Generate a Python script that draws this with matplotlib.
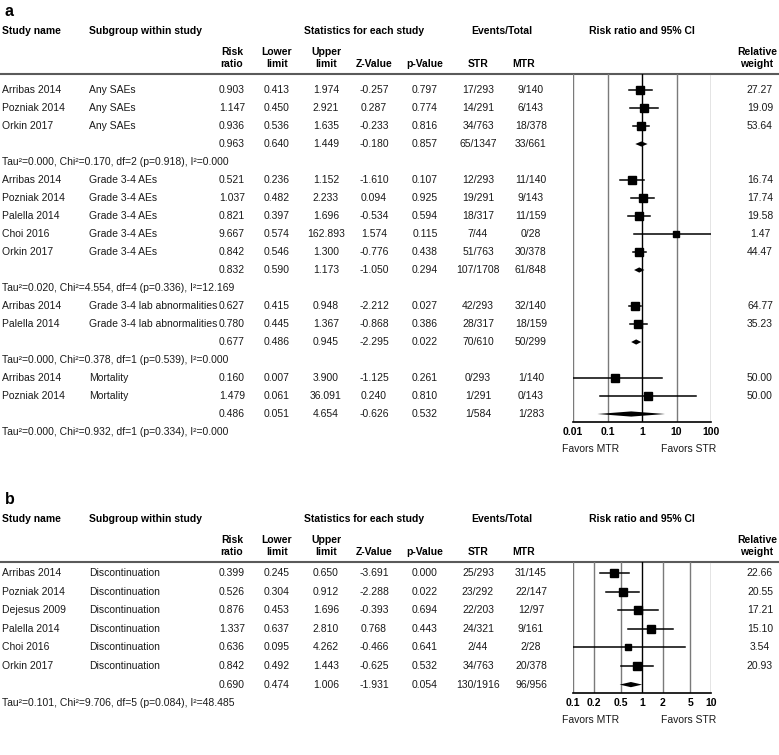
import numpy as np
import matplotlib.pyplot as plt
from matplotlib.ticker import NullLocator

plt.rcParams['font.family'] = ['Liberation Sans', 'DejaVu Sans']

# =========================
# Panel a data
# =========================
a_groups = ["Any SAEs", "Grade 3-4 AEs", "Grade 3-4 lab abnormalities", "Mortality"]
a_study = ["Arribas 2014", "Pozniak 2014", "Orkin 2017",
           "Arribas 2014", "Pozniak 2014", "Palella 2014", "Choi 2016", "Orkin 2017",
           "Arribas 2014", "Palella 2014",
           "Arribas 2014", "Pozniak 2014"]
a_sub = ["Any SAEs"] * 3 + ["Grade 3-4 AEs"] * 5 + ["Grade 3-4 lab abnormalities"] * 2 + ["Mortality"] * 2
a_rr = [0.903, 1.147, 0.936, 0.521, 1.037, 0.821, 9.667, 0.842, 0.627, 0.780, 0.160, 1.479]
a_lo = [0.413, 0.450, 0.536, 0.236, 0.482, 0.397, 0.574, 0.546, 0.415, 0.445, 0.007, 0.061]
a_hi = [1.974, 2.921, 1.635, 1.152, 2.233, 1.696, 162.893, 1.300, 0.948, 1.367, 3.900, 36.091]
a_z = [-0.257, 0.287, -0.233, -1.610, 0.094, -0.534, 1.574, -0.776, -2.212, -0.868, -1.125, 0.240]
a_p = [0.797, 0.774, 0.816, 0.107, 0.925, 0.594, 0.115, 0.438, 0.027, 0.386, 0.261, 0.810]
a_str = ["17/293", "14/291", "34/763", "12/293", "19/291", "18/317", "7/44", "51/763",
         "42/293", "28/317", "0/293", "1/291"]
a_mtr = ["9/140", "6/143", "18/378", "11/140", "9/143", "11/159", "0/28", "30/378",
         "32/140", "18/159", "1/140", "0/143"]
a_wt = [27.27, 19.09, 53.64, 16.74, 17.74, 19.58, 1.47, 44.47, 64.77, 35.23, 50.00, 50.00]

a_sum_rr = [0.963, 0.832, 0.677, 0.486]
a_sum_lo = [0.640, 0.590, 0.486, 0.051]
a_sum_hi = [1.449, 1.173, 0.945, 4.654]
a_sum_z = [-0.180, -1.050, -2.295, -0.626]
a_sum_p = [0.857, 0.294, 0.022, 0.532]
a_sum_str = ["65/1347", "107/1708", "70/610", "1/584"]
a_sum_mtr = ["33/661", "61/848", "50/299", "1/283"]
a_tau = [0.000, 0.020, 0.000, 0.000]
a_chi = [0.170, 4.554, 0.378, 0.932]
a_df = [2, 4, 1, 1]
a_phet = [0.918, 0.336, 0.539, 0.334]
a_i2 = [0.000, 12.169, 0.000, 0.000]
a_ticks = [0.01, 0.1, 1, 10, 100]
a_ticklabels = ["0.01", "0.1", "1", "10", "100"]

# =========================
# Panel b data
# =========================
b_groups = ["Discontinuation"]
b_study = ["Arribas 2014", "Pozniak 2014", "Dejesus 2009", "Palella 2014", "Choi 2016", "Orkin 2017"]
b_sub = ["Discontinuation"] * 6
b_rr = [0.399, 0.526, 0.876, 1.337, 0.636, 0.842]
b_lo = [0.245, 0.304, 0.453, 0.637, 0.095, 0.492]
b_hi = [0.650, 0.912, 1.696, 2.810, 4.262, 1.443]
b_z = [-3.691, -2.288, -0.393, 0.768, -0.466, -0.625]
b_p = [0.000, 0.022, 0.694, 0.443, 0.641, 0.532]
b_str = ["25/293", "23/292", "22/203", "24/321", "2/44", "34/763"]
b_mtr = ["31/145", "22/147", "12/97", "9/161", "2/28", "20/378"]
b_wt = [22.66, 20.55, 17.21, 15.10, 3.54, 20.93]

b_sum_rr = [0.690]
b_sum_lo = [0.474]
b_sum_hi = [1.006]
b_sum_z = [-1.931]
b_sum_p = [0.054]
b_sum_str = ["130/1916"]
b_sum_mtr = ["96/956"]
b_tau = [0.101]
b_chi = [9.706]
b_df = [5]
b_phet = [0.084]
b_i2 = [48.485]
b_ticks = [0.1, 0.2, 0.5, 1, 2, 5, 10]
b_ticklabels = ["0.1", "0.2", "0.5", "1", "2", "5", "10"]

# =========================
# Layout (pixel coordinates)
# =========================
W, H = 779, 755
FS = 7.5
TXT = '#1a1a1a'
COL_X = dict(rr=232, lo=277, hi=326, z=374, p=425, str=478, mtr=531, wt=757)
FOREST_L, FOREST_R = 573, 711

fig = plt.figure(figsize=(W / 100, H / 100), dpi=100)
bg = fig.add_axes([0, 0, 1, 1])
bg.set_xlim(0, W)
bg.set_ylim(H, 0)
bg.axis('off')


def header(label, y_top):
    bg.text(5, y_top, label, fontsize=11.5, fontweight='bold', va='center')
    y1 = y_top + 20
    y2 = y1 + 36
    kw = dict(fontsize=FS, fontweight='bold')
    bg.text(2, y1, "Study name", va='center', **kw)
    bg.text(89, y1, "Subgroup within study", va='center', **kw)
    bg.text(364, y1, "Statistics for each study", ha='center', va='center', **kw)
    bg.text(502, y1, "Events/Total", ha='center', va='center', **kw)
    bg.text(642, y1, "Risk ratio and 95% CI", ha='center', va='center', **kw)
    for x, t in [(COL_X['rr'], "Risk\nratio"), (COL_X['lo'], "Lower\nlimit"),
                 (COL_X['hi'], "Upper\nlimit"), (COL_X['wt'], "Relative\nweight")]:
        bg.text(x, y2, t, ha='center', va='baseline', linespacing=1.2, **kw)
    for x, t in [(COL_X['z'], "Z-Value"), (COL_X['p'], "p-Value"),
                 (COL_X['str'], "STR"), (524, "MTR")]:
        bg.text(x, y2, t, ha='center', va='baseline', **kw)
    line_y = y2 + 7
    bg.plot([0, W], [line_y, line_y], color='#5a5a5a', lw=1.5, solid_capstyle='butt')
    return line_y


def panel(label, y_top, row0, dy, axis_y, groups, study, sub, rr, lo, hi, z, p,
          s_str, s_mtr, wt, srr, slo, shi, sz, sp, sstr, smtr,
          tau, chi, df, phet, i2, ticks, ticklabels):
    line_y = header(label, y_top)
    ax = fig.add_axes([FOREST_L / W, 1 - axis_y / H,
                       (FOREST_R - FOREST_L) / W, (axis_y - line_y) / H])
    ax.set_xscale('log')
    ax.set_xlim(ticks[0], ticks[-1])
    ax.set_ylim(axis_y, line_y)
    for t in ticks:
        ax.axvline(t, color='black' if t == 1 else '#7a7a7a', lw=1.0, zorder=1)

    row = 0
    for g, name in enumerate(groups):
        idx = [k for k in range(len(study)) if sub[k] == name]
        for k in idx:
            y = row0 + row * dy
            vals = [(COL_X['rr'], f"{rr[k]:.3f}"), (COL_X['lo'], f"{lo[k]:.3f}"),
                    (COL_X['hi'], f"{hi[k]:.3f}"), (COL_X['z'], f"{z[k]:.3f}"),
                    (COL_X['p'], f"{p[k]:.3f}"), (COL_X['str'], s_str[k]),
                    (COL_X['mtr'], s_mtr[k]), (COL_X['wt'] + 3, f"{wt[k]:.2f}")]
            bg.text(2, y, study[k], fontsize=FS, color=TXT, va='center')
            bg.text(89, y, sub[k], fontsize=FS, color=TXT, va='center')
            for x, t in vals:
                bg.text(x, y, t, fontsize=FS, color=TXT, ha='center', va='center')
            ax.plot([lo[k], hi[k]], [y, y], color='black', lw=1.1, zorder=3)
            side = 6.3 + 2.5 * np.sqrt(wt[k] / 100)
            ax.plot(rr[k], y, marker='s', ms=side * 0.72, color='black', zorder=4)
            row += 1
        # summary row
        y = row0 + row * dy
        vals = [(COL_X['rr'], f"{srr[g]:.3f}"), (COL_X['lo'], f"{slo[g]:.3f}"),
                (COL_X['hi'], f"{shi[g]:.3f}"), (COL_X['z'], f"{sz[g]:.3f}"),
                (COL_X['p'], f"{sp[g]:.3f}"), (COL_X['str'], sstr[g]),
                (COL_X['mtr'], smtr[g])]
        for x, t in vals:
            bg.text(x, y, t, fontsize=FS, color=TXT, ha='center', va='center')
        ax.fill([slo[g], srr[g], shi[g], srr[g]], [y, y - 2.6, y, y + 2.6],
                color='black', zorder=4, lw=0)
        row += 1
        # heterogeneity row
        y = row0 + row * dy
        bg.text(2, y, f"Tau\u00b2={tau[g]:.3f}, Chi\u00b2={chi[g]:.3f}, df={df[g]} "
                      f"(p={phet[g]:.3f}), I\u00b2={i2[g]:.3f}",
                fontsize=FS, color=TXT, va='center')
        row += 1

    for s in ['top', 'left', 'right']:
        ax.spines[s].set_visible(False)
    ax.spines['bottom'].set_linewidth(1.2)
    ax.set_yticks([])
    ax.set_xticks(ticks)
    ax.set_xticklabels(ticklabels, fontsize=FS, fontweight='bold')
    ax.xaxis.set_minor_locator(NullLocator())
    ax.tick_params(axis='x', length=0, pad=3.5)
    ax.patch.set_alpha(0)

    bg.text((FOREST_L * 0.87 + FOREST_R * 0.13), axis_y + 27, "Favors MTR",
            fontsize=FS, color=TXT, ha='center', va='center')
    bg.text((FOREST_L * 0.16 + FOREST_R * 0.84), axis_y + 27, "Favors STR",
            fontsize=FS, color=TXT, ha='center', va='center')


panel("a", 11, 90, 18.0, 422, a_groups, a_study, a_sub, a_rr, a_lo, a_hi, a_z, a_p,
      a_str, a_mtr, a_wt, a_sum_rr, a_sum_lo, a_sum_hi, a_sum_z, a_sum_p,
      a_sum_str, a_sum_mtr, a_tau, a_chi, a_df, a_phet, a_i2, a_ticks, a_ticklabels)

panel("b", 499, 573, 18.6, 693, b_groups, b_study, b_sub, b_rr, b_lo, b_hi, b_z, b_p,
      b_str, b_mtr, b_wt, b_sum_rr, b_sum_lo, b_sum_hi, b_sum_z, b_sum_p,
      b_sum_str, b_sum_mtr, b_tau, b_chi, b_df, b_phet, b_i2, b_ticks, b_ticklabels)

fig.savefig("out.png", dpi=100)
